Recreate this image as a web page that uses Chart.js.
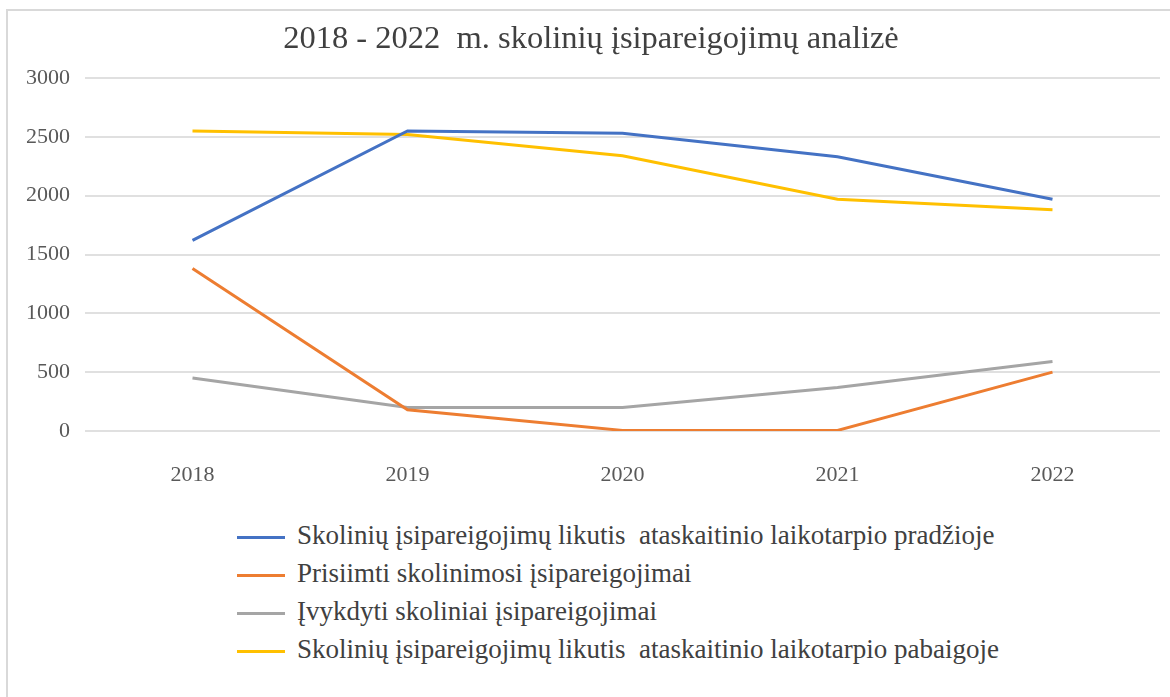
<!DOCTYPE html>
<html>
<head>
<meta charset="utf-8">
<script src="https://cdn.jsdelivr.net/npm/chart.js@4.4.0/dist/chart.umd.min.js"></script>
<style>
  html, body { margin: 0; padding: 0; background: #fff; }
  #frame {
    position: absolute; left: 6px; top: 9px; width: 1164px; height: 688px;
    border-top: 2px solid #d9d9d9; border-left: 2px solid #d9d9d9;
  }
  #wrap { position: absolute; left: 0; top: 0; width: 1170px; height: 490px; }
  #legend {
    position: absolute; left: 237px; top: 516px; margin: 0; padding: 0; list-style: none;
    font-family: "Liberation Serif", "Times New Roman", serif; font-size: 27px; color: #404040;
  }
  #legend li { height: 38px; line-height: 38px; white-space: pre; }
  #legend span.swatch {
    display: inline-block; width: 48px; height: 3px; margin-right: 12px; vertical-align: middle;
  }
</style>
</head>
<body>
<div id="frame"></div>
<div id="wrap"><canvas id="debtChart"></canvas></div>
<ul id="legend"></ul>
<script>
const years = ['2018', '2019', '2020', '2021', '2022'];
const seriesNames = [
    'Skolinių įsipareigojimų likutis  ataskaitinio laikotarpio pradžioje',
    'Prisiimti skolinimosi įsipareigojimai',
    'Įvykdyti skoliniai įsipareigojimai',
    'Skolinių įsipareigojimų likutis  ataskaitinio laikotarpio pabaigoje'
];
const startBalance = [1620, 2550, 2530, 2330, 1970];
const taken = [1380, 180, 5, 5, 500];
const fulfilled = [450, 200, 200, 370, 590];
const endBalance = [2550, 2520, 2340, 1970, 1880];
const colors = ['#4472C4', '#ED7D31', '#A5A5A5', '#FFC000'];

const serif = '"Liberation Serif", "Times New Roman", serif';
const allSeries = [startBalance, taken, fulfilled, endBalance];

const ctx = document.getElementById('debtChart').getContext('2d');
const chart = new Chart(ctx, {
    type: 'line',
    data: {
        labels: years,
        datasets: allSeries.map((values, i) => ({
            label: seriesNames[i],
            data: values,
            borderColor: colors[i],
            backgroundColor: colors[i],
            borderWidth: 3,
            pointRadius: 0,
            tension: 0,
            fill: false
        }))
    },
    options: {
        responsive: true,
        maintainAspectRatio: false,
        animation: false,
        layout: {
            // left padding also nudges the centred title to the right
            padding: { left: 22, right: 10, top: 0, bottom: 0 }
        },
        plugins: {
            legend: { display: false },
            tooltip: { enabled: false },
            title: {
                display: true,
                text: '2018 - 2022  m. skolinių įsipareigojimų analizė',
                color: '#404040',
                font: { family: serif, size: 32.5, weight: 'normal' },
                padding: { top: 20, bottom: 19 }
            }
        },
        scales: {
            x: {
                offset: true,
                grid: { display: false },
                border: { display: false },
                ticks: {
                    color: '#595959',
                    font: { family: serif, size: 22 },
                    padding: 23
                },
                afterFit: function (scale) { scale.height = 59; }
            },
            y: {
                min: 0,
                max: 3000,
                grid: { color: '#e0e0e0', lineWidth: 2, drawTicks: false },
                border: { display: false },
                ticks: {
                    stepSize: 500,
                    color: '#595959',
                    font: { family: serif, size: 22 },
                    padding: 15,
                    callback: function (value) { return String(value); }
                },
                afterFit: function (scale) { scale.width = 63; }
            }
        }
    }
});

// legend list built from the chart's own datasets
const legendEl = document.getElementById('legend');
chart.data.datasets.forEach(ds => {
    const li = document.createElement('li');
    const sw = document.createElement('span');
    sw.className = 'swatch';
    sw.style.background = ds.borderColor;
    li.appendChild(sw);
    li.appendChild(document.createTextNode(ds.label));
    legendEl.appendChild(li);
});
</script>
</body>
</html>
